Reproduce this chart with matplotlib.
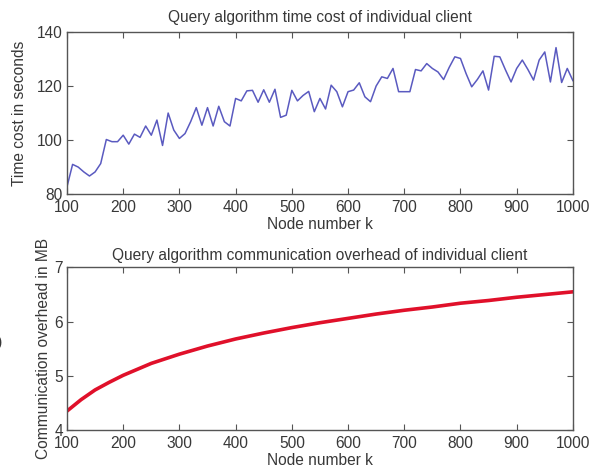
import numpy as np
import matplotlib.pyplot as plt

plt.rcParams['font.family'] = ['Liberation Sans', 'DejaVu Sans']
plt.rcParams['font.size'] = 11.2

# time cost per node number (step 10)
k_time = np.arange(100, 1001, 10)
time_cost = [82.7, 91.0, 90.0, 88.2, 86.7, 88.2, 91.3, 100.2, 99.4, 99.4,
             101.8, 98.5, 102.2, 101.0, 105.2, 101.8, 107.4, 98.0, 110.0, 103.7,
             100.6, 102.4, 106.8, 112.0, 105.5, 112.0, 105.2, 112.5, 106.8, 105.2,
             115.4, 114.5, 118.2, 118.4, 114.0, 118.6, 114.0, 118.8, 108.4, 109.2,
             118.4, 114.5, 116.5, 118.0, 110.5, 115.4, 111.5, 120.3, 117.9, 112.3,
             117.9, 118.5, 121.2, 116.0, 114.2, 120.0, 123.4, 122.8, 126.5, 117.9,
             117.9, 117.9, 126.1, 125.6, 128.3, 126.5, 125.2, 122.4, 126.9, 130.8,
             130.2, 124.6, 119.7, 122.4, 125.6, 118.5, 131.0, 130.8, 126.0, 121.5,
             126.5, 129.6, 126.1, 122.2, 129.6, 132.6, 121.5, 134.2, 121.3, 126.5,
             122.0]

# communication overhead (MB)
k_comm = [100, 125, 150, 175, 200, 250, 300, 350, 400, 450, 500, 550,
          600, 650, 700, 750, 800, 850, 900, 950, 1000]
comm_mb = [4.35, 4.56, 4.74, 4.88, 5.01, 5.23, 5.40, 5.55, 5.68, 5.79, 5.89, 5.98,
           6.06, 6.14, 6.21, 6.27, 6.34, 6.39, 6.45, 6.50, 6.55]

txt = '#383838'
fig = plt.figure(figsize=(5.98, 4.70), dpi=100)
ax1 = fig.add_axes([0.112, 0.587, 0.846, 0.345])
ax2 = fig.add_axes([0.112, 0.085, 0.846, 0.346])

ax1.plot(k_time, time_cost, color='#5a5ac0', lw=1.1)
ax2.plot(k_comm, comm_mb, color='#e0102a', lw=2.6)

for ax in (ax1, ax2):
    ax.set_xlim(100, 1000)
    ax.set_xticks(range(100, 1001, 100))
    ax.tick_params(direction='in', top=True, right=True, length=4,
                   colors='#555555', labelcolor=txt)
    ax.tick_params(axis='x', pad=4)
    ax.tick_params(axis='y', pad=3)
    for s in ax.spines.values():
        s.set_color('#555555')
        s.set_linewidth(1.0)
    ax.set_xlabel('Node number k', color=txt, labelpad=2)

ax1.set_ylim(80, 140)
ax1.set_yticks([80, 100, 120, 140])
ax1.set_title('Query algorithm time cost of individual client', color=txt, fontsize=11.2, pad=7)
ax1.set_ylabel('Time cost in seconds', color=txt)
ax1.yaxis.set_label_coords(-0.08, 0.5)

ax2.set_ylim(4, 7)
ax2.set_yticks([4, 5, 6, 7])
ax2.set_title('Query algorithm communication overhead of individual client', color=txt,
              fontsize=11.2, pad=5)
ax2.set_ylabel('Communication overhead in MB', color=txt)
ax2.yaxis.set_label_coords(-0.032, 0.5)

fig.text(0.005, 1 - 343 / 470, '(b)', ha='right', va='center', color=txt, fontsize=12)

fig.savefig('out.png', dpi=100)
